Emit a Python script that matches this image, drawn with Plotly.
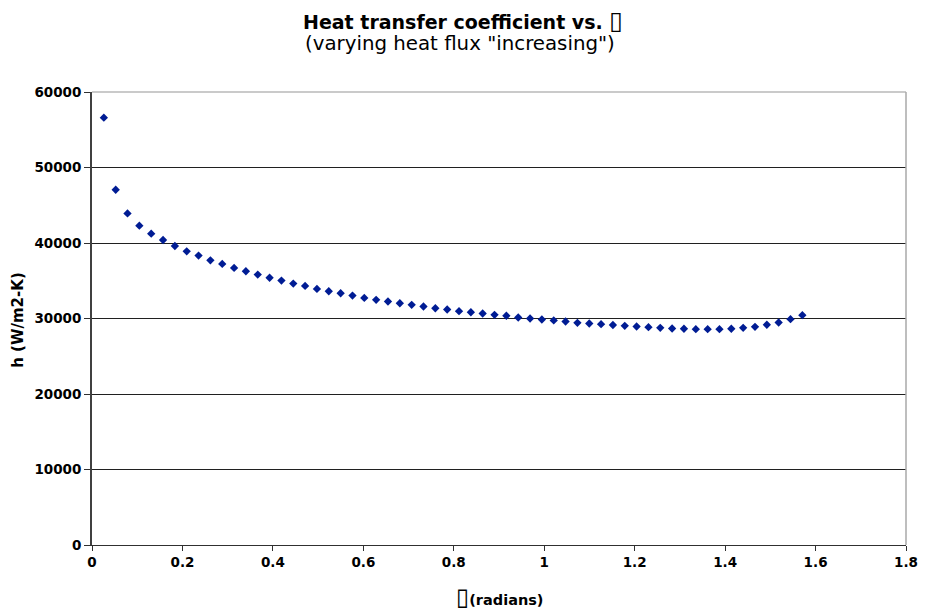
import numpy as np
import plotly.graph_objects as go

# theta values (radians): 60 equally spaced points up to pi/2
theta = [0.0262, 0.0524, 0.0785, 0.1047, 0.1309, 0.1571, 0.1833, 0.2094, 0.2356, 0.2618,
         0.2880, 0.3142, 0.3403, 0.3665, 0.3927, 0.4189, 0.4451, 0.4712, 0.4974, 0.5236,
         0.5498, 0.5760, 0.6021, 0.6283, 0.6545, 0.6807, 0.7069, 0.7330, 0.7592, 0.7854,
         0.8116, 0.8378, 0.8639, 0.8901, 0.9163, 0.9425, 0.9687, 0.9948, 1.0210, 1.0472,
         1.0734, 1.0996, 1.1257, 1.1519, 1.1781, 1.2043, 1.2305, 1.2566, 1.2828, 1.3090,
         1.3352, 1.3614, 1.3875, 1.4137, 1.4399, 1.4661, 1.4923, 1.5184, 1.5446, 1.5708]

h = [56600, 47050, 43920, 42290, 41230, 40400, 39600, 38900, 38330, 37710,
     37230, 36700, 36260, 35820, 35400, 35020, 34630, 34320, 33920, 33610,
     33340, 33040, 32730, 32470, 32250, 32020, 31810, 31590, 31360, 31190,
     30970, 30830, 30660, 30490, 30360, 30130, 30000, 29870, 29740, 29600,
     29430, 29340, 29250, 29140, 29030, 28940, 28850, 28770, 28680, 28640,
     28590, 28590, 28590, 28640, 28770, 28900, 29170, 29470, 29910, 30440]

x_ticks = [0, 0.2, 0.4, 0.6, 0.8, 1.0, 1.2, 1.4, 1.6, 1.8]
x_tick_labels = ["0", "0.2", "0.4", "0.6", "0.8", "1", "1.2", "1.4", "1.6", "1.8"]
y_ticks = [0, 10000, 20000, 30000, 40000, 50000, 60000]
y_tick_labels = ["0", "10000", "20000", "30000", "40000", "50000", "60000"]

BOX = "\u25af"
title_main = "Heat transfer coefficient vs. "
title_sub = "(varying heat flux \"increasing\")"
x_title = "(radians)"
y_title = "h (W/m2-K)"

FONT = "DejaVu Sans"
L, R, T, B = 92, 15, 92, 70
PW, PH = 930 - L - R, 615 - T - B


def px(xp):
    return (xp - L) / PW


def py(yp):
    return (615 - B - yp) / PH


fig = go.Figure()
fig.add_trace(go.Scatter(
    x=theta, y=h, mode="markers",
    marker=dict(symbol="diamond", size=6.4, color="#001c94", line=dict(width=0)),
    showlegend=False, hoverinfo="x+y",
))

fig.update_layout(
    width=930, height=615,
    margin=dict(l=L, r=R, t=T, b=B),
    paper_bgcolor="white", plot_bgcolor="white",
    font=dict(family=FONT, color="black"),
    xaxis=dict(
        range=[0, 1.8], tickvals=x_ticks, ticktext=x_tick_labels,
        showgrid=False, zeroline=False, showline=True, linecolor="#303030", linewidth=1,
        ticks="outside", ticklen=5, tickcolor="#303030", ticklabeloverflow="allow",
        tickfont=dict(family=FONT, size=13.5, color="black", weight="bold"),
    ),
    yaxis=dict(
        range=[0, 60000], tickvals=y_ticks, ticktext=y_tick_labels,
        showgrid=True, gridcolor="#202020", gridwidth=1, zeroline=False,
        showline=True, linecolor="#404040", linewidth=1.8,
        ticks="outside", ticklen=6, tickcolor="#303030", ticklabeloverflow="allow",
        tickfont=dict(family=FONT, size=13.5, color="black", weight="bold"),
    ),
    annotations=[
        dict(text="<b>" + title_main + "<span style='font-size:25px'>" + BOX + "</span></b>",
             xref="paper", yref="paper",
             x=px(467), y=py(20), xanchor="center", yanchor="middle",
             showarrow=False, font=dict(family=FONT, size=19, color="black")),
        dict(text=title_sub, xref="paper", yref="paper",
             x=px(464), y=py(44), xanchor="center", yanchor="middle",
             showarrow=False, font=dict(family=FONT, size=19.8, color="black")),
        dict(text="<b><span style='font-size:24px'>" + BOX + "</span>" + x_title + "</b>",
             xref="paper", yref="paper",
             x=px(505), y=py(597), xanchor="center", yanchor="middle",
             showarrow=False, font=dict(family=FONT, size=14.5, color="black")),
        dict(text="<b>" + y_title + "</b>", xref="paper", yref="paper",
             x=px(17), y=py(320), xanchor="center", yanchor="middle",
             textangle=-90, showarrow=False, font=dict(family=FONT, size=15, color="black")),
    ],
    shapes=[
        dict(type="line", xref="paper", yref="paper", x0=0, x1=1, y0=1, y1=1,
             line=dict(color="#b8b8b8", width=1.5), layer="above"),
        dict(type="line", xref="paper", yref="paper", x0=1, x1=1, y0=0, y1=1,
             line=dict(color="#a8a8a8", width=1.5), layer="above"),
    ],
)

fig.write_html("out.html")
